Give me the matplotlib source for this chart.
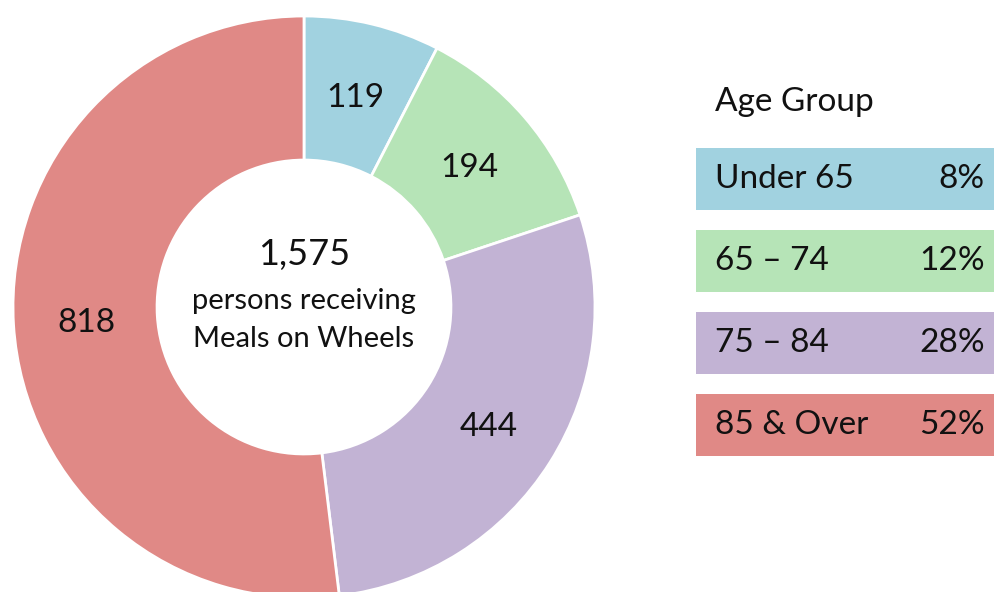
import matplotlib.pyplot as plt
from matplotlib.patches import Rectangle

# Данные
age_groups = ["Under 65", "65 \u2013 74", "75 \u2013 84", "85 & Over"]
persons = [119, 194, 444, 818]
percents = ["8%", "12%", "28%", "52%"]
colors = ["#A1D2E0", "#B6E4B7", "#C2B3D4", "#E08986"]

total = sum(persons)

plt.rcParams['font.family'] = ['Lato', 'DejaVu Sans']

fig = plt.figure(figsize=(9.94, 5.92), dpi=100)
ax = fig.add_axes([13 / 994, -6 / 592, 582 / 994, 582 / 592])

wedges, texts, autotexts = ax.pie(
    persons, colors=colors, startangle=90, counterclock=False,
    radius=1.0, wedgeprops=dict(width=0.495, edgecolor='white', linewidth=2),
    autopct=lambda p: f"{p * total / 100:.0f}", pctdistance=0.75,
    textprops=dict(fontsize=24, color='#111111'))
for t in autotexts:
    t.set_va('center_baseline')
ax.set_xlim(-1, 1)
ax.set_ylim(-1, 1)

# подпись в центре
ax.text(0, 0.18, f"{total:,}", ha='center', va='center', fontsize=26, color='#111111')
ax.text(0, 0.02, "persons receiving", ha='center', va='center', fontsize=21, color='#111111')
ax.text(0, -0.11, "Meals on Wheels", ha='center', va='center', fontsize=21, color='#111111')

# легенда справа
fig.text(715 / 994, 1 - 102 / 592, "Age Group", ha='left', va='center', fontsize=24, color='#111111')
box_top = 148
for i, (name, pct, c) in enumerate(zip(age_groups, percents, colors)):
    top = box_top + i * 82
    fig.patches.append(Rectangle((696 / 994, 1 - (top + 62) / 592), 300 / 994, 62 / 592,
                                 transform=fig.transFigure, facecolor=c, edgecolor='none'))
    yc = 1 - (top + 31) / 592
    fig.text(715 / 994, yc, name, ha='left', va='center', fontsize=24, color='#111111')
    fig.text(985 / 994, yc, pct, ha='right', va='center', fontsize=24, color='#111111')

fig.savefig("out.png", dpi=100)
